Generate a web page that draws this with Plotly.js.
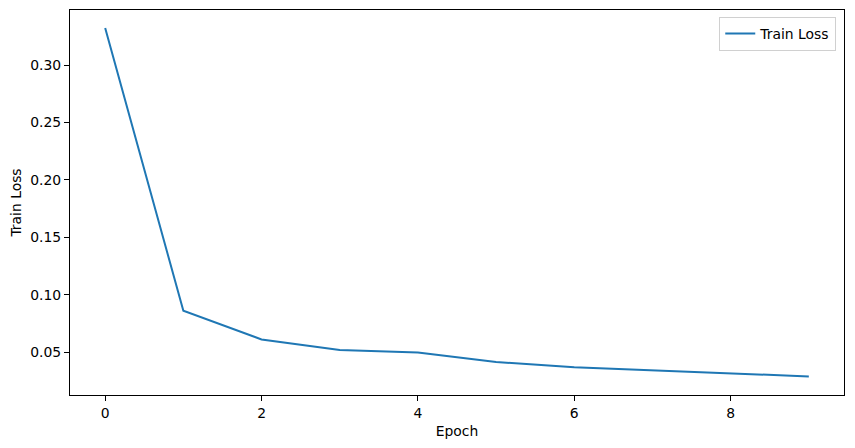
<!DOCTYPE html>
<html>
<head>
<meta charset="utf-8">
<script src="https://cdn.plot.ly/plotly-3.0.1.min.js"></script>
<style>html,body{margin:0;padding:0;background:#fff;}#chart{width:855px;height:448px;}</style>
</head>
<body>
<div id="chart"></div>
<script>
const epochs = [0, 1, 2, 3, 4, 5, 6, 7, 8, 9];
const trainLoss = [0.3323, 0.0861, 0.0612, 0.0520, 0.0497, 0.0415, 0.0370, 0.0342, 0.0312, 0.0290];
const seriesName = 'Train Loss';
const xTicks = [0, 2, 4, 6, 8];
const yTicks = [0.05, 0.10, 0.15, 0.20, 0.25, 0.30];

const font = {family: 'DejaVu Sans, sans-serif', size: 13.9, color: '#000'};
const trace = {
  x: epochs, y: trainLoss, type: 'scatter', mode: 'lines', name: seriesName,
  line: {color: '#1f77b4', width: 2}
};
const axisBase = {
  showgrid: false, zeroline: false, showline: true, mirror: true,
  linecolor: '#000', linewidth: 1, ticks: 'outside', ticklen: 5, tickcolor: '#000',
  tickfont: font
};
const layout = {
  width: 855, height: 448,
  margin: {l: 70, r: 11, t: 10, b: 53},
  paper_bgcolor: '#fff', plot_bgcolor: '#fff',
  font: font,
  showlegend: true,
  legend: {x: 0.99, xanchor: 'right', y: 0.982, yanchor: 'top',
    bordercolor: '#d0d0d0', borderwidth: 1, bgcolor: 'rgba(255,255,255,0.8)', font: font},
  xaxis: Object.assign({}, axisBase, {range: [-0.45, 9.45], tickvals: xTicks,
    title: {text: 'Epoch', font: font, standoff: 6}}),
  yaxis: Object.assign({}, axisBase, {range: [0.0128, 0.348], tickvals: yTicks,
    tickformat: '.2f', title: {text: 'Train Loss', font: font, standoff: 5}})
};
Plotly.newPlot('chart', [trace], layout, {staticPlot: true, displayModeBar: false});
</script>
</body>
</html>
